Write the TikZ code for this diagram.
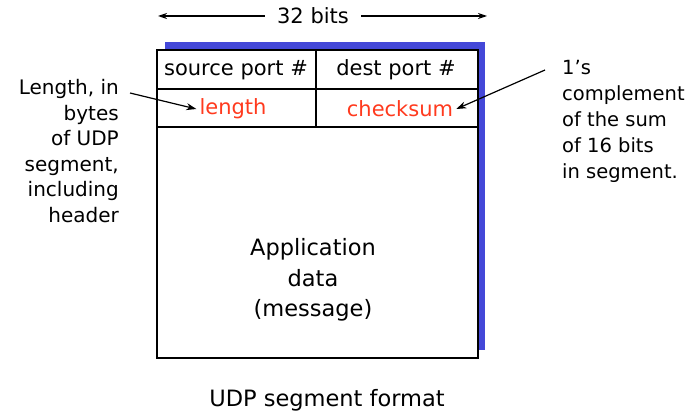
\documentclass[tikz,border=0pt]{standalone}
\usepackage{fontspec}
\setmainfont{DejaVu Sans}
\usetikzlibrary{arrows.meta}
\definecolor{shadowblue}{RGB}{68,72,216}
\definecolor{fieldred}{RGB}{255,58,30}
\begin{document}
\begin{tikzpicture}[x=1pt,y=-1pt,
  cell/.style={draw=black,line width=1.8pt,fill=white,minimum height=#1,inner sep=0pt},
  txt/.style={font=\fontsize{20}{25.5}\selectfont,inner sep=0pt},
  bigtxt/.style={font=\fontsize{21}{25.5}\selectfont,inner sep=0pt},
  redtxt/.style={bigtxt,text=fieldred,inner sep=3pt},
  note/.style={-{Stealth[length=10pt,width=7pt]},line width=1.2pt},
  dim/.style={-{Stealth[length=9pt,width=6pt]},line width=1.2pt}]
\useasboundingbox (0,0) rectangle (698,417);
% shadow
\fill[shadowblue] (165,42) rectangle (485,350);
% cells
\node[cell=39pt,minimum width=159pt] (src) at (236.5,69.5) {};
\node[cell=39pt,minimum width=162pt] (dst) at (397,69.5) {};
\node[cell=38pt,minimum width=159pt] (len) at (236.5,108) {};
\node[cell=38pt,minimum width=162pt] (chk) at (397,108) {};
\node[cell=231pt,minimum width=321pt] (data) at (317.5,242.5) {};
% cell texts
\node[bigtxt] (srctxt) at (236,70) {source port \#};
\node[bigtxt] (dsttxt) at (396,70) {dest port \#};
\node[redtxt] (lentxt) at (233,109) {length};
\node[redtxt] (chktxt) at (400,109) {checksum};
\node[align=center,inner sep=0pt,font=\fontsize{22.5}{30.5}\selectfont] (app) at (313,280) {Application\\data\\(message)};
% width label
\node[bigtxt] (bits) at (313,16) {32 bits};
\coordinate (bl) at (158,16);
\coordinate (br) at (487,16);
\draw[dim] ([xshift=-12pt]bits.west) -- (bl);
\draw[dim] ([xshift=12pt]bits.east) -- (br);
% annotations
\node[txt,align=right,anchor=east] (lennote) at (119,151) {Length, in\\bytes\\of UDP\\segment,\\including\\header};
\node[txt,align=left,anchor=west,font=\fontsize{19.5}{26}\selectfont] (chknote) at (562,121) {1’s\\complement\\of the sum\\of 16 bits\\in segment.};
\coordinate (la) at (130,93);
\coordinate (ra) at (545,70);
\draw[note] (la) -- (lentxt.west);
\draw[note] (ra) -- (chktxt.east);
% caption
\node[inner sep=0pt,font=\fontsize{22.5}{27}\selectfont] (cap) at (327,400) {UDP segment format};
\end{tikzpicture}
\end{document}
